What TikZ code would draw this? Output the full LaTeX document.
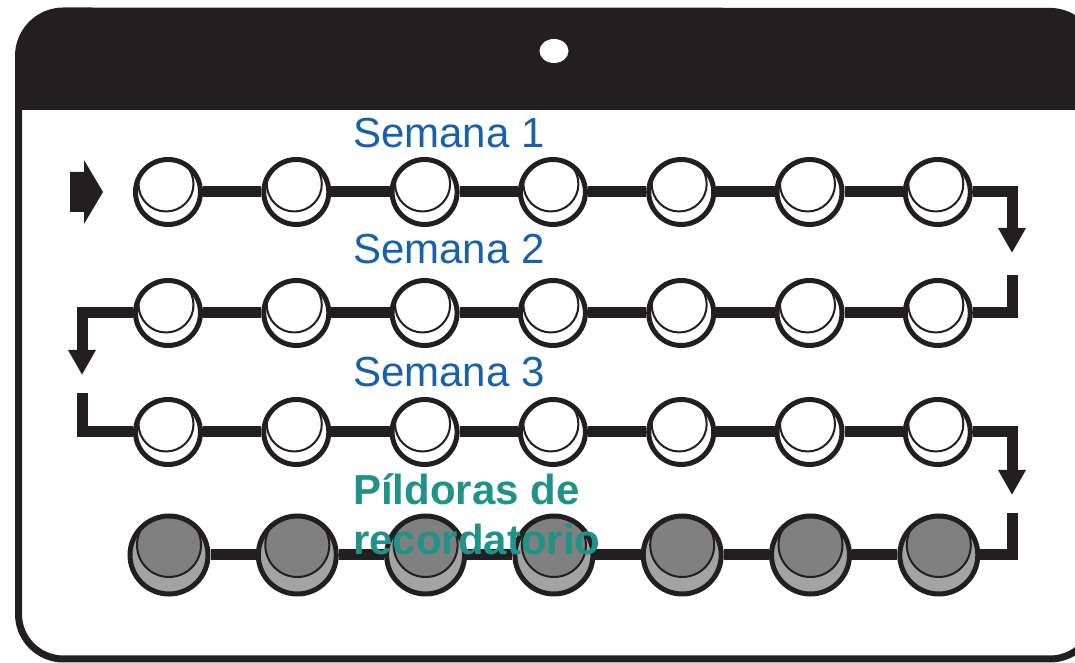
\documentclass[tikz,border=0pt]{standalone}
\usepackage{fontspec}
\setmainfont{Liberation Sans}
\usepackage{xcolor}
\usetikzlibrary{arrows.meta}
\definecolor{ink}{RGB}{35,31,32}
\definecolor{weekblue}{RGB}{22,96,172}
\definecolor{remindteal}{RGB}{32,146,136}
\definecolor{pilldark}{RGB}{128,128,128}
\definecolor{pilllight}{RGB}{162,164,164}
\tikzstyle{white pill}=[
        draw = ink,
        line width = 5pt,
        fill = white,
        minimum size = 65pt,
        inner sep = 0pt,
        circle,
        path picture = {\draw[ink, line width = 2pt] ([xshift=-2pt, yshift=8pt]path picture bounding box.center) circle (27.5pt);}
    ]
\tikzstyle{grey pill}=[
    draw = ink,
    line width = 5pt,
    fill = pilllight,
    minimum size = 78pt,
    inner sep = 0pt,
    circle,
    path picture = {\draw[ink, line width = 2pt, fill = pilldark] ([yshift=10pt]path picture bounding box.center) circle (32pt);}
]
\tikzstyle{track}=[
    draw = ink,
    line width = 11pt,
    line join = miter
]
\tikzstyle{week label}=[
    text = weekblue,
    font = \fontsize{42}{50}\selectfont,
    anchor = base west,
    inner sep = 0pt
]
\tikzstyle{remind label}=[
    text = remindteal,
    font = \fontsize{42}{50}\selectfont\bfseries,
    anchor = base west,
    inner sep = 0pt
]

\begin{document}
\begin{tikzpicture}[x=1pt, y=1pt, node distance={128.3pt}, turn/.style = {track, -{Triangle[length=25pt, width=26pt]}}]
        \path[use as bounding box, clip] (0,0) rectangle (1075,663);

        % card and header
        \begin{scope}
            \clip (1050,652) arc (90:20:45) -- (1092,35) arc (-20:-90:45) -- (63.5,4) arc (270:180:45) -- (18.5,607) arc (180:90:45) -- cycle;
            \fill[ink] (0,553) rectangle (1250,663);
        \end{scope}
        \draw[ink, line width=7pt] (1092,622) arc (20:90:45) -- (63.5,652) arc (90:180:45) -- (18.5,49) arc (180:270:45) -- (1050,4) arc (-90:-20:45);
        \fill[white] (554,612) ellipse (14.5pt and 12pt);

        % start arrow
        \fill[ink] (70,451) -- (84,451) -- (84,439) -- (103,471) -- (84,503) -- (84,491) -- (70,491) -- cycle;

        % week 1
        \node[white pill] (11) at (168,471) {};
        \node[white pill] (12) [right of = 11] {};
        \node[white pill] (13) [right of = 12] {};
        \node[white pill] (14) [right of = 13] {};
        \node[white pill] (15) [right of = 14] {};
        \node[white pill] (16) [right of = 15] {};
        \node[white pill] (17) [right of = 16] {};

        % week 2
        \node[white pill] (21) at (168,350) {};
        \node[white pill] (22) [right of = 21] {};
        \node[white pill] (23) [right of = 22] {};
        \node[white pill] (24) [right of = 23] {};
        \node[white pill] (25) [right of = 24] {};
        \node[white pill] (26) [right of = 25] {};
        \node[white pill] (27) [right of = 26] {};

        % week 3
        \node[white pill] (31) at (168,231) {};
        \node[white pill] (32) [right of = 31] {};
        \node[white pill] (33) [right of = 32] {};
        \node[white pill] (34) [right of = 33] {};
        \node[white pill] (35) [right of = 34] {};
        \node[white pill] (36) [right of = 35] {};
        \node[white pill] (37) [right of = 36] {};

        % reminder pills
        \node[grey pill] (41) at (169,108) {};
        \node[grey pill] (42) [right of = 41] {};
        \node[grey pill] (43) [right of = 42] {};
        \node[grey pill] (44) [right of = 43] {};
        \node[grey pill] (45) [right of = 44] {};
        \node[grey pill] (46) [right of = 45] {};
        \node[grey pill] (47) [right of = 46] {};

        \coordinate (a1) at (1012,410);
        \coordinate (b1) at (1012,388);
        \coordinate (a2) at (82,288);
        \coordinate (b2) at (82,270);
        \coordinate (a3) at (1012,168);
        \coordinate (b3) at (1012,150);

        \draw[track] (11) -- (12) (12) -- (13) (13) -- (14) (14) -- (15) (15) -- (16) (16) -- (17);
        \draw[track] (21) -- (22) (22) -- (23) (23) -- (24) (24) -- (25) (25) -- (26) (26) -- (27);
        \draw[track] (31) -- (32) (32) -- (33) (33) -- (34) (34) -- (35) (35) -- (36) (36) -- (37);
        \draw[track] (41) -- (42) (42) -- (43) (43) -- (44) (44) -- (45) (45) -- (46) (46) -- (47);

        \draw[turn] (17) -| (a1);
        \draw[track] (b1) |- (27);
        \draw[turn] (21) -| (a2);
        \draw[track] (b2) |- (31);
        \draw[turn] (37) -| (a3);
        \draw[track] (b3) |- (47);

        \node[week label] (s1) at (353,515) {Semana 1};
        \node[week label] (s2) at (353,399) {Semana 2};
        \node[week label] (s3) at (353,276) {Semana 3};
        \node[remind label] (pil) at (353,158) {Píldoras de};
        \node[remind label] (rec) at (353,108) {recordatorio};

    \end{tikzpicture}
\end{document}
